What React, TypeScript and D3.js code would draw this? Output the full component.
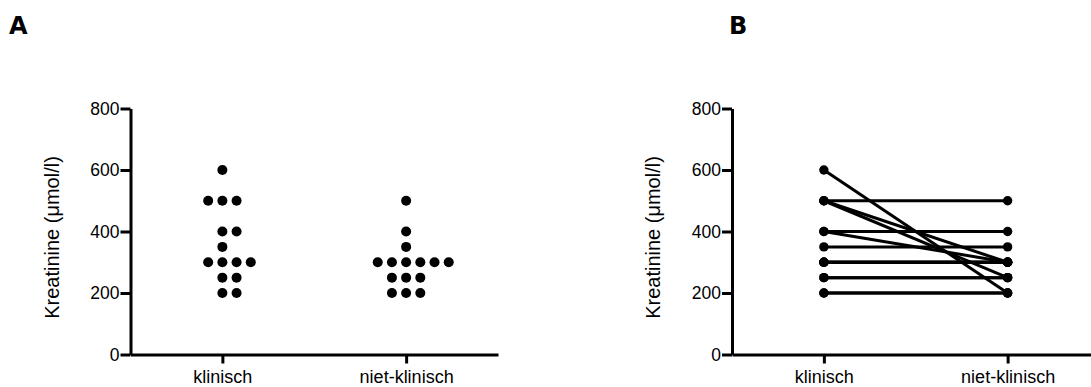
import * as d3 from "d3";
import React, { useEffect, useRef } from "react";

const categories = ["klinisch", "niet-klinisch"];
// paired values: klinisch[i] belongs with nietKlinisch[i]
const klinisch = [600, 500, 500, 500, 400, 400, 350, 300, 300, 300, 300, 250, 250, 200, 200];
const nietKlinisch = [200, 500, 300, 250, 400, 300, 350, 300, 300, 300, 300, 250, 250, 200, 200];
const yTicks = [0, 200, 400, 600, 800];
const yLabel = "Kreatinine (\u03bcmol/l)";
const panelLabels = ["A", "B"];

const W = 1091;
const H = 387;
const FONT = "'Liberation Sans', Arial, Helvetica, sans-serif";

// column scatter offsets: 0, +1, -1, +2, -2, ...
function slot(i: number) {
  return i % 2 === 0 ? -i / 2 : (i + 1) / 2;
}

export default function App() {
  const svgRef = useRef<SVGSVGElement | null>(null);

  useEffect(() => {
    const svg = d3.select(svgRef.current);
    svg.selectAll("*").remove();

    const y = d3.scaleLinear().domain([0, 800]).range([354.5, 108.5]);

    const drawAxes = (g: any, x: any, x0: number) => {
      const yAxis = g
        .append("g")
        .attr("transform", `translate(${x0},0)`)
        .call(d3.axisLeft(y).tickValues(yTicks).tickSize(10).tickSizeOuter(0).tickPadding(1));
      yAxis.select(".domain").attr("stroke", "#000").attr("stroke-width", 3);
      yAxis.selectAll(".tick line").attr("stroke", "#000").attr("stroke-width", 3);
      yAxis
        .selectAll(".tick text")
        .attr("font-family", FONT)
        .attr("font-size", 17.5)
        .attr("fill", "#000");

      const xAxis = g
        .append("g")
        .attr("transform", `translate(0,${y(0)})`)
        .call(d3.axisBottom(x).tickSize(9).tickSizeOuter(0));
      xAxis.select(".domain").attr("stroke", "#000").attr("stroke-width", 3);
      xAxis.selectAll(".tick line").attr("stroke", "#000").attr("stroke-width", 3);
      xAxis
        .selectAll(".tick text")
        .attr("font-family", FONT)
        .attr("font-size", 18)
        .attr("fill", "#000")
        .attr("y", 28)
        .attr("dy", 0);

      g.append("text")
        .attr("transform", `translate(${x0 - 72},${y(400) + 6}) rotate(-90)`)
        .attr("text-anchor", "middle")
        .attr("font-family", FONT)
        .attr("font-size", 20)
        .attr("fill", "#000")
        .text(yLabel);
    };

    // ---- panel A: column scatter
    const xA = d3.scalePoint<string>().domain(categories).range([130.5, 498]).padding(0.5);
    const gA = svg.append("g");
    drawAxes(gA, xA, 130.5);

    const spacing = 14.2;
    [klinisch, nietKlinisch].forEach((vals, ci) => {
      const groups = d3.group(vals, (v) => v);
      const pts: { v: number; k: number }[] = [];
      groups.forEach((arr, v) => arr.forEach((_, k) => pts.push({ v, k: slot(k) })));
      gA.selectAll(null)
        .data(pts)
        .enter()
        .append("circle")
        .attr("cx", (d) => xA(categories[ci])! + d.k * spacing)
        .attr("cy", (d) => y(d.v))
        .attr("r", 5)
        .attr("fill", "#000");
    });

    // ---- panel B: before/after
    const xB = d3.scalePoint<string>().domain(categories).range([732, 1099.5]).padding(0.5);
    const gB = svg.append("g");
    drawAxes(gB, xB, 732);

    const pairs = klinisch.map((v, i) => [v, nietKlinisch[i]]);
    gB.selectAll(null)
      .data(pairs)
      .enter()
      .append("line")
      .attr("x1", xB(categories[0])!)
      .attr("x2", xB(categories[1])!)
      .attr("y1", (d) => y(d[0]))
      .attr("y2", (d) => y(d[1]))
      .attr("stroke", "#000")
      .attr("stroke-width", 3);
    pairs.forEach((p) => {
      p.forEach((v, ci) => {
        gB.append("circle")
          .attr("cx", xB(categories[ci])!)
          .attr("cy", y(v))
          .attr("r", 4.7)
          .attr("fill", "#000");
      });
    });

    // panel letters
    svg
      .selectAll(".panel-label")
      .data(panelLabels)
      .enter()
      .append("text")
      .attr("class", "panel-label")
      .attr("x", (d, i) => (i === 0 ? 9 : 729))
      .attr("y", 34)
      .attr("font-family", "'DejaVu Sans', Verdana, sans-serif")
      .attr("font-weight", "bold")
      .attr("font-size", 24)
      .attr("fill", "#000")
      .text((d) => d);
  }, []);

  return (
    <svg
      ref={svgRef}
      width={W}
      height={H}
      style={{ position: "absolute", left: 0, top: 0, background: "#fff" }}
    />
  );
}
